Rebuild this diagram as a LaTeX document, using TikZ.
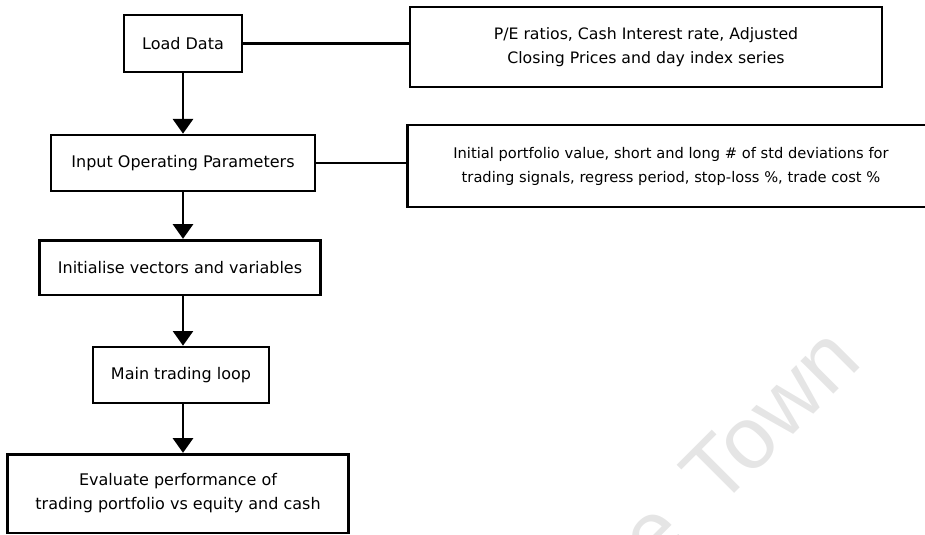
\documentclass[tikz,border=0pt]{standalone}
\usepackage{fontspec}
\setmainfont{DejaVu Sans}
\newfontfamily\wmfont{Liberation Sans}
\usetikzlibrary{arrows.meta,calc}
\begin{document}
\begin{tikzpicture}[x=0.75pt,y=-0.75pt,
    box/.style={draw,line width=2pt,align=center,inner sep=0,font=\fontsize{12}{18}\selectfont},
    flow/.style={line width=2pt,-{Triangle[width=15pt,length=11pt]}},
    mark text/.style={rotate=45,text=black!10,inner sep=0,font=\wmfont\fontsize{66}{70}\selectfont}]
    \useasboundingbox (0,0) rectangle (925,535);
    \clip (0,0) rectangle (925,535);
    % watermark
    \node at (864,364) [mark text,anchor=base east] (town) {Town};
    \node at ($(town.base west)+(-28,28)$) [mark text,anchor=base east] (cape) {Cape};

    \node at (183,43.5) [box,minimum width=88.5pt,minimum height=42.75pt] (load) {Load Data};
    \node at (646,47) [box,minimum width=354pt,minimum height=60pt,font=\fontsize{11.8}{18}\selectfont] (series)
      {P/E ratios, Cash Interest rate, Adjusted\\Closing Prices and day index series};
    \node at (183,163) [box,minimum width=198pt,minimum height=42pt] (params) {Input Operating Parameters};
    \node at (671,166) [box,minimum width=395pt,minimum height=61.5pt,font=\fontsize{11}{18}\selectfont] (values)
      {Initial portfolio value, short and long \# of std deviations for\\trading signals, regress period, stop-loss \%, trade cost \%};
    \node at (180,267.5) [box,minimum width=211pt,minimum height=41pt] (init) {Initialise vectors and variables};
    \node at (181,375) [box,minimum width=132pt,minimum height=42pt] (loop) {Main trading loop};
    \node at (178,493.5) [box,minimum width=256pt,minimum height=59pt] (eval)
      {Evaluate performance of\\trading portfolio vs equity and cash};

    \draw[line width=2pt] (load.east) -- (load.east -| series.west);
    \draw[line width=2pt] (params.east) -- (params.east -| values.west);

    \draw[flow] (load.south) -- (load.south |- params.north);
    \draw[flow] (params.south) -- (params.south |- init.north);
    \draw[flow] (params.south |- init.south) -- (params.south |- loop.north);
    \draw[flow] (params.south |- loop.south) -- (params.south |- eval.north);
\end{tikzpicture}
\end{document}
